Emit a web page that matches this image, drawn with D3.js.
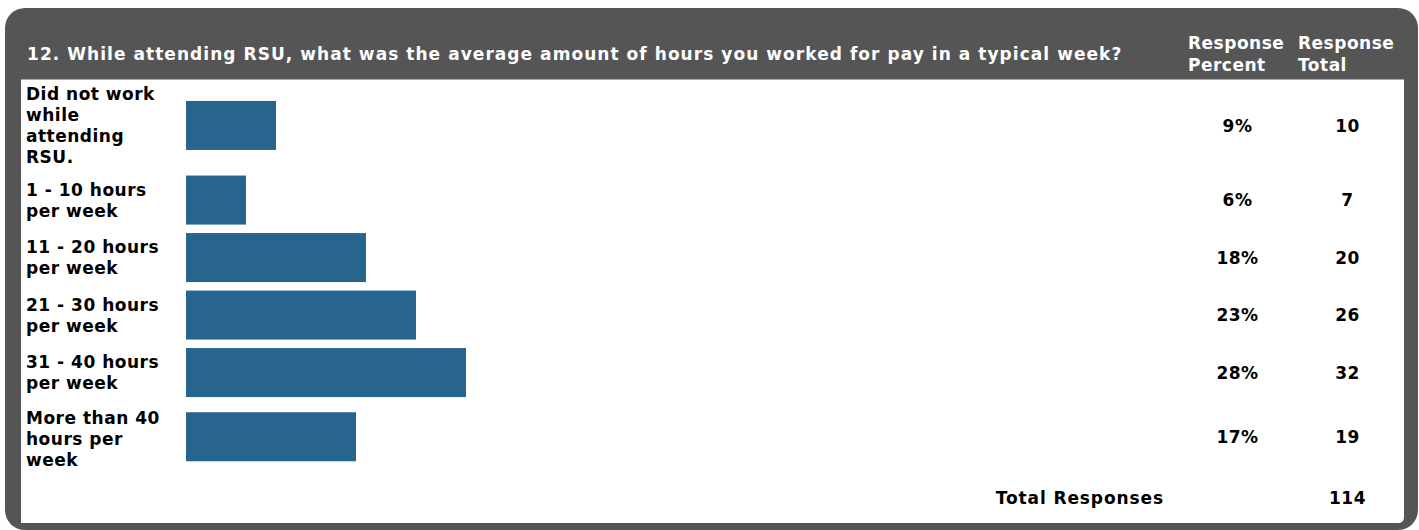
<!DOCTYPE html>
<html>
<head>
<meta charset="utf-8">
<script src="https://cdn.jsdelivr.net/npm/d3@7"></script>
<style>
  body { margin: 0; background: #ffffff; }
  svg { display: block; }
  text { font-family: "DejaVu Sans", Verdana, sans-serif; font-weight: bold; font-size: 17px; letter-spacing: 0.5px; }
  text.title { letter-spacing: 1.05px; }
  text.total-label { letter-spacing: 0.9px; }
</style>
</head>
<body>
<svg id="chart" width="1419" height="530"></svg>
<script>
// Survey question and its answer options
const question = "12. While attending RSU, what was the average amount of hours you worked for pay in a typical week?";
const categories = [
  "Did not work while attending RSU.",
  "1 - 10 hours per week",
  "11 - 20 hours per week",
  "21 - 30 hours per week",
  "31 - 40 hours per week",
  "More than 40 hours per week"
];
// Response percent (%) and response count for each option
const responsePercent = [9, 6, 18, 23, 28, 17];
const responseTotal = [10, 7, 20, 26, 32, 19];
const columnHeaders = [["Response", "Percent"], ["Response", "Total"]];
const totalLabel = "Total Responses";
const totalResponses = 114;

const W = 1419, H = 530;
const svg = d3.select("#chart");

// Layout constants
const panel = { x: 5, y: 8, right: 1418, bottom: 530, r: 20 };
const inner = { x: 21, y: 79.6, right: 1404, bottom: 523 };
const labelX = 26, labelWrap = 148;
const lineH = 20.8, barH = 49, rowPad = 8.5;
const capShift = 6.2;           // half cap height, to centre text on a line
const pctX = 1237.5, totX = 1347.5;
const pctHeadX = 1188, totHeadX = 1298;
const barColor = "#27648e";

// Dark frame with rounded corners
svg.append("rect")
  .attr("x", panel.x).attr("y", panel.y)
  .attr("width", panel.right - panel.x).attr("height", panel.bottom - panel.y)
  .attr("rx", panel.r).attr("ry", panel.r)
  .attr("fill", "#555555");

// White body of the table (small rounding at the lower right)
const br = 6;
svg.append("path")
  .attr("d", `M${inner.x},${inner.y} H${inner.right} V${inner.bottom - br}
              Q${inner.right},${inner.bottom} ${inner.right - br},${inner.bottom}
              H${inner.x} Z`)
  .attr("fill", "#ffffff");

// Header
const headerMid = 54;
svg.append("text")
  .attr("class", "title")
  .attr("x", 27).attr("y", headerMid + capShift)
  .attr("fill", "#ffffff")
  .text(question);

[pctHeadX, totHeadX].forEach((hx, i) => {
  const t = svg.append("text").attr("fill", "#ffffff");
  columnHeaders[i].forEach((s, j) => {
    t.append("tspan")
      .attr("x", hx)
      .attr("y", headerMid + capShift + (j - 0.5) * 22)
      .text(s);
  });
});

// Word wrapping for the category labels
const measurer = svg.append("text").attr("visibility", "hidden");
function wrap(str, maxW) {
  const words = str.split(" ");
  const lines = [];
  let cur = "";
  words.forEach(w => {
    const trial = cur ? cur + " " + w : w;
    measurer.text(trial);
    if (cur && measurer.node().getComputedTextLength() > maxW) {
      lines.push(cur);
      cur = w;
    } else {
      cur = trial;
    }
  });
  if (cur) lines.push(cur);
  return lines;
}

// Row geometry follows the number of label lines
const rows = [];
let yCursor = inner.y;
categories.forEach((c, i) => {
  const lines = wrap(c, labelWrap);
  const h = Math.max(lines.length * lineH, barH) + rowPad;
  rows.push({ cat: c, lines, top: yCursor, h, mid: yCursor + h / 2,
              pct: responsePercent[i], total: responseTotal[i] });
  yCursor += h;
});
measurer.remove();

const x = d3.scaleLinear().domain([0, 100]).range([186, 1186]);

const g = svg.append("g");

// Bars
g.selectAll("rect.bar")
  .data(rows)
  .join("rect")
  .attr("class", "bar")
  .attr("x", x(0))
  .attr("y", d => d.mid - barH / 2)
  .attr("width", d => x(d.pct) - x(0))
  .attr("height", barH)
  .attr("fill", barColor);

// Category labels
g.selectAll("text.cat")
  .data(rows)
  .join("text")
  .attr("class", "cat")
  .attr("fill", "#000000")
  .each(function(d) {
    const n = d.lines.length;
    const nudge = n === 3 ? 2 : 0;
    d3.select(this).selectAll("tspan")
      .data(d.lines)
      .join("tspan")
      .attr("x", labelX)
      .attr("y", (s, j) => d.mid + (j - (n - 1) / 2) * lineH + capShift + nudge)
      .text(s => s);
  });

// Response percent and total columns
g.selectAll("text.pct")
  .data(rows)
  .join("text")
  .attr("class", "pct")
  .attr("x", pctX)
  .attr("y", d => d.mid + capShift)
  .attr("text-anchor", "middle")
  .attr("fill", "#000000")
  .text(d => d.pct + "%");

g.selectAll("text.tot")
  .data(rows)
  .join("text")
  .attr("class", "tot")
  .attr("x", totX)
  .attr("y", d => d.mid + capShift)
  .attr("text-anchor", "middle")
  .attr("fill", "#000000")
  .text(d => d.total);

// Total row
const totalMid = (yCursor + inner.bottom) / 2;
svg.append("text")
  .attr("class", "total-label")
  .attr("x", 1164).attr("y", totalMid + capShift)
  .attr("text-anchor", "end")
  .attr("fill", "#000000")
  .text(totalLabel);
svg.append("text")
  .attr("x", totX).attr("y", totalMid + capShift)
  .attr("text-anchor", "middle")
  .attr("fill", "#000000")
  .text(totalResponses);
</script>
</body>
</html>
